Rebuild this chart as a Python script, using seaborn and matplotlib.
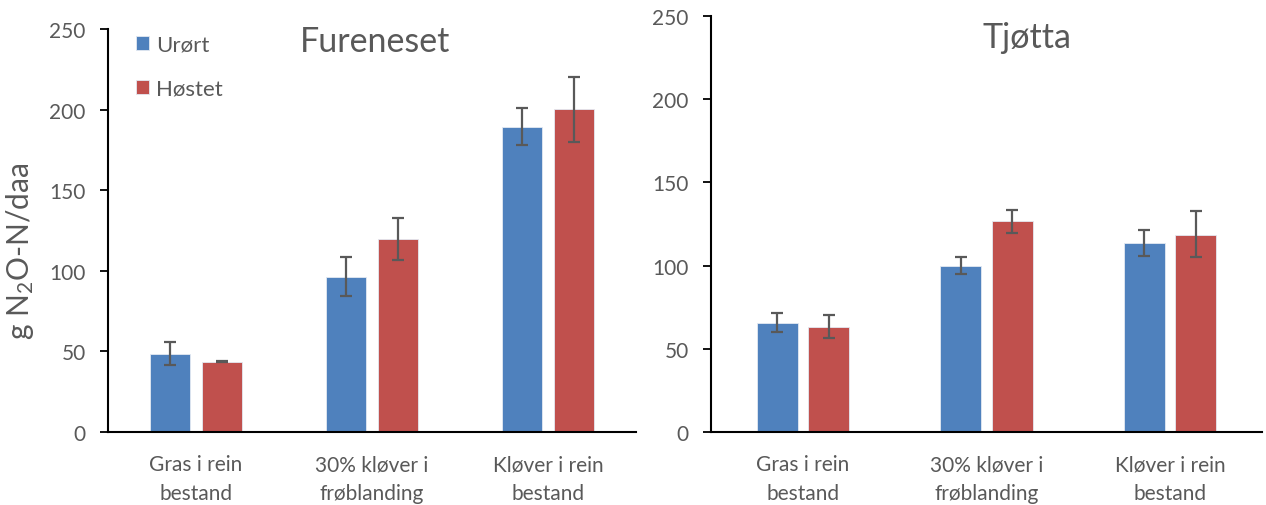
import matplotlib
matplotlib.use("Agg")
import matplotlib.pyplot as plt
from matplotlib.container import BarContainer
import seaborn as sns
import pandas as pd
import numpy as np

# Categories and treatments
categories = ["Gras i rein\nbestand", "30% kløver i\nfrøblanding", "Kløver i rein\nbestand"]
treatments = ["Urørt", "Høstet"]

# Fureneset: mean and error range (low / high)
fur_urort = [48.6, 96.2, 189.4]
fur_urort_lo = [41.4, 84.4, 178.0]
fur_urort_hi = [55.7, 108.6, 201.2]
fur_hostet = [43.7, 119.6, 200.1]
fur_hostet_lo = [43.3, 106.6, 180.0]
fur_hostet_hi = [44.2, 132.7, 220.4]

# Tjøtta: mean and error range (low / high)
tj_urort = [65.6, 99.8, 113.5]
tj_urort_lo = [60.1, 94.8, 105.9]
tj_urort_hi = [71.6, 105.0, 121.3]
tj_hostet = [63.0, 126.7, 118.5]
tj_hostet_lo = [56.7, 119.5, 104.9]
tj_hostet_hi = [70.2, 133.7, 132.7]

y_ticks = [0, 50, 100, 150, 200, 250]

sns.set_style("white")
plt.rcParams["font.family"] = ["Lato", "DejaVu Sans"]

BLUE = "#4F81BD"
RED = "#C0504D"
GREY = "#595959"

W, H = 1266, 506
fig = plt.figure(figsize=(W / 100, H / 100), dpi=100)
ax1 = fig.add_axes([108 / W, 1 - 433 / H, 528 / W, 403 / H])
ax2 = fig.add_axes([711 / W, 1 - 433 / H, 551 / W, 416 / H])


def panel(ax, urort, urort_lo, urort_hi, hostet, hostet_lo, hostet_hi,
          title, title_pos, width, gap, show_legend):
    df = pd.DataFrame({
        "kategori": categories * 2,
        "behandling": [treatments[0]] * 3 + [treatments[1]] * 3,
        "verdi": list(urort) + list(hostet),
    })
    sns.barplot(data=df, x="kategori", y="verdi", hue="behandling",
                order=categories, hue_order=treatments,
                palette=[BLUE, RED], width=width, gap=gap,
                errorbar=None, ax=ax, edgecolor="#e3e9f2", linewidth=0.6,
                saturation=1, legend=show_legend)
    lows = [urort_lo, hostet_lo]
    highs = [urort_hi, hostet_hi]
    means = [urort, hostet]
    bars = [c for c in ax.containers if isinstance(c, BarContainer)]
    for k, cont in enumerate(bars):
        xs = [p.get_x() + p.get_width() / 2 for p in cont.patches]
        m = np.array(means[k])
        err = np.vstack([m - np.array(lows[k]), np.array(highs[k]) - m])
        ax.errorbar(xs, m, yerr=err, fmt="none", ecolor=GREY,
                    elinewidth=1.6, capsize=4.5, capthick=1.6, zorder=5)
    ax.set_ylim(0, 250)
    ax.set_xlim(-0.5, 2.5)
    ax.set_yticks(y_ticks)
    ax.set_yticklabels([str(t) for t in y_ticks])
    ax.tick_params(axis="y", labelsize=15, labelcolor=GREY, length=6,
                   width=1.3, color="black", direction="out", left=True, pad=10)
    ax.tick_params(axis="x", labelsize=15, labelcolor=GREY, length=0, pad=16)
    for lbl in ax.get_xticklabels():
        lbl.set_linespacing(1.55)
    sns.despine(ax=ax, top=True, right=True)
    for s in ("left", "bottom"):
        ax.spines[s].set_color("black")
        ax.spines[s].set_linewidth(1.5)
    ax.set_xlabel("")
    ax.set_ylabel("")
    ax.text(title_pos[0], title_pos[1], title, transform=ax.transAxes,
            ha="center", va="center", fontsize=24.5, color=GREY)


panel(ax1, fur_urort, fur_urort_lo, fur_urort_hi,
      fur_hostet, fur_hostet_lo, fur_hostet_hi,
      "Fureneset", ((375 - 108) / 528, (433 - 42) / 403), 0.585, 0.225, True)
panel(ax2, tj_urort, tj_urort_lo, tj_urort_hi,
      tj_hostet, tj_hostet_lo, tj_hostet_hi,
      "Tjøtta", ((1027 - 711) / 551, (433 - 38) / 416), 0.56, 0.2, False)

ax1.set_ylabel("g N$\\mathregular{_2}$O-N/daa", fontsize=21.5, color=GREY)
ax1.yaxis.set_label_coords((36 - 108) / 528, (433 - 251) / 403)

leg = ax1.legend(loc="upper left", bbox_to_anchor=((136 - 108) / 528, (433 - 36) / 403),
                 frameon=False, fontsize=16, handlelength=0.6, handleheight=0.6,
                 handletextpad=0.3, labelspacing=1.08, borderpad=0, borderaxespad=0)
for t in leg.get_texts():
    t.set_color(GREY)

fig.savefig("out.png", dpi=100)
